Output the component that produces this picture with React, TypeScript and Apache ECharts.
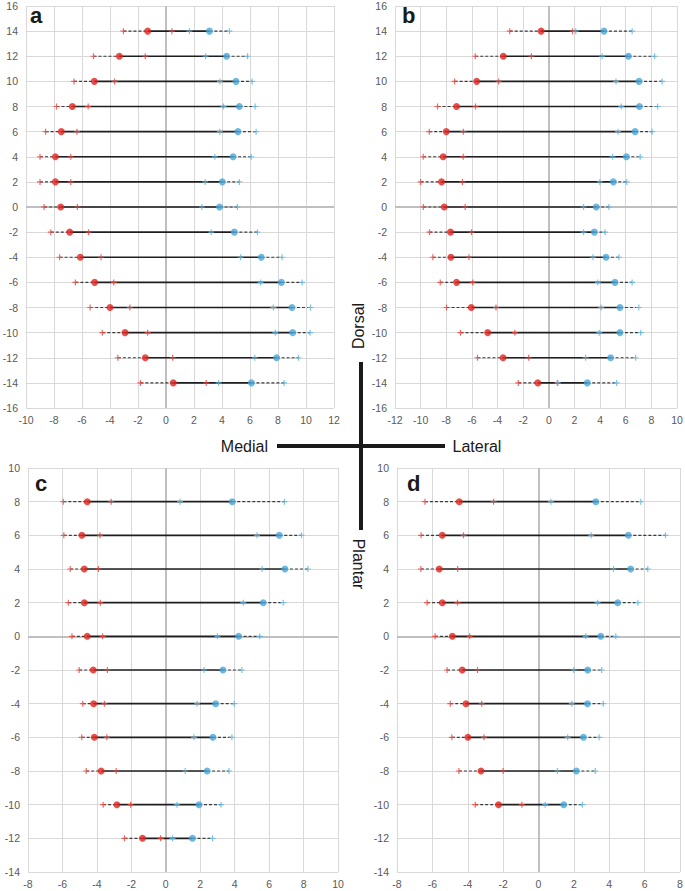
import React, { useEffect, useRef } from "react";
import * as echarts from "echarts";

// ---------- data ----------
const rowsAB = [14, 12, 10, 8, 6, 4, 2, 0, -2, -4, -6, -8, -10, -12, -14];
const rowsC = [8, 6, 4, 2, 0, -2, -4, -6, -8, -10, -12];
const rowsD = [8, 6, 4, 2, 0, -2, -4, -6, -8, -10];

const aMedialMean = [-1.31, -3.33, -5.12, -6.69, -7.48, -7.9, -7.9, -7.52, -6.88, -6.12, -5.1, -4.0, -2.93, -1.48, 0.52];
const aMedialSD = [1.73, 1.85, 1.45, 1.13, 1.12, 1.1, 1.1, 1.19, 1.35, 1.48, 1.37, 1.42, 1.62, 1.96, 2.35];
const aLateralMean = [3.1, 4.33, 5.0, 5.24, 5.14, 4.79, 4.02, 3.83, 4.88, 6.81, 8.24, 9.0, 9.05, 7.9, 6.1];
const aLateralSD = [1.43, 1.5, 1.15, 1.13, 1.3, 1.3, 1.22, 1.27, 1.65, 1.48, 1.48, 1.33, 1.24, 1.56, 2.34];

const bMedialMean = [-0.6, -3.55, -5.63, -7.2, -8.0, -8.24, -8.37, -8.16, -7.67, -7.64, -7.2, -6.05, -4.77, -3.57, -0.86];
const bMedialSD = [2.45, 2.19, 1.72, 1.48, 1.33, 1.56, 1.63, 1.63, 1.64, 1.41, 1.27, 1.93, 2.12, 2.0, 1.52];
const bLateralMean = [4.3, 6.21, 7.04, 7.07, 6.73, 6.05, 5.03, 3.7, 3.55, 4.46, 5.16, 5.55, 5.55, 4.82, 3.0];
const bLateralSD = [2.2, 2.05, 1.8, 1.42, 1.33, 1.08, 1.05, 0.99, 0.84, 1.01, 1.34, 1.47, 1.62, 1.95, 2.29];

const cMedialMean = [-4.56, -4.87, -4.73, -4.73, -4.56, -4.21, -4.19, -4.15, -3.75, -2.84, -1.35];
const cMedialSD = [1.39, 1.05, 0.82, 0.93, 0.89, 0.82, 0.63, 0.73, 0.87, 0.8, 1.05];
const cLateralMean = [3.86, 6.59, 6.92, 5.66, 4.23, 3.32, 2.9, 2.74, 2.4, 1.93, 1.55];
const cLateralSD = [3.03, 1.29, 1.33, 1.16, 1.23, 1.1, 1.08, 1.1, 1.27, 1.28, 1.16];

const dMedialMean = [-4.48, -5.44, -5.61, -5.44, -4.87, -4.31, -4.1, -3.99, -3.25, -2.26];
const dMedialSD = [1.94, 1.2, 1.04, 0.86, 0.98, 0.86, 0.89, 0.91, 1.25, 1.32];
const dLateralMean = [3.24, 5.08, 5.21, 4.48, 3.52, 2.78, 2.77, 2.54, 2.14, 1.43];
const dLateralSD = [2.54, 2.1, 0.97, 1.14, 0.85, 0.79, 0.89, 0.89, 1.07, 1.05];

const panelLetters = ["a", "b", "c", "d"];
const xRanges = [
  [-10, 12],
  [-12, 10],
  [-8, 10],
  [-8, 8],
];
const yRanges = [
  [-16, 16],
  [-16, 16],
  [-14, 10],
  [-14, 10],
];
const directionLabels = ["Medial", "Lateral", "Dorsal", "Plantar"];

// ---------- styling ----------
const FONT = "'Liberation Sans', Arial, Helvetica, sans-serif";
const RED = "#e2231d";
const BLUE = "#47a6d8";
const RED_PLUS = "#e8453f";
const BLUE_PLUS = "#5fb4e2";
const PLUS = "path://M4,0H6V4H10V6H6V10H4V6H0V4H4Z";

const grids = [
  { left: 26, top: 6, width: 308, height: 402 },
  { left: 395, top: 6, width: 282, height: 402 },
  { left: 28, top: 468, width: 310, height: 404 },
  { left: 397, top: 468, width: 283, height: 404 },
];
const letterPos = [
  [30, 15.5],
  [402, 15],
  [35, 483.5],
  [407, 483],
];

const panels = [
  { rows: rowsAB, mm: aMedialMean, ms: aMedialSD, lm: aLateralMean, ls: aLateralSD },
  { rows: rowsAB, mm: bMedialMean, ms: bMedialSD, lm: bLateralMean, ls: bLateralSD },
  { rows: rowsC, mm: cMedialMean, ms: cMedialSD, lm: cLateralMean, ls: cLateralSD },
  { rows: rowsD, mm: dMedialMean, ms: dMedialSD, lm: dLateralMean, ls: dLateralSD },
];

function buildOption() {
  const grid: any[] = [];
  const xAxis: any[] = [];
  const yAxis: any[] = [];
  const series: any[] = [];

  panels.forEach((p, i) => {
    grid.push({ ...grids[i], containLabel: false, outerBoundsMode: "none" });
    const axisCommon = {
      gridIndex: i,
      type: "value",
      interval: 2,
      axisLine: { show: false },
      axisTick: { show: false },
      axisLabel: { color: "#595959", fontSize: 10.5, fontFamily: FONT },
      splitLine: { show: true, lineStyle: { color: "#d9d9d9", width: 1 } },
    };
    xAxis.push({
      ...axisCommon,
      min: xRanges[i][0],
      max: xRanges[i][1],
      axisLabel: { ...axisCommon.axisLabel, margin: 6 },
    });
    yAxis.push({
      ...axisCommon,
      min: yRanges[i][0],
      max: yRanges[i][1],
      axisLabel: { ...axisCommon.axisLabel, margin: 8 },
    });

    const table = p.rows.map((y, k) => [y, p.mm[k], p.ms[k], p.lm[k], p.ls[k]]);

    // zero lines (helper)
    series.push({
      type: "scatter",
      xAxisIndex: i,
      yAxisIndex: i,
      data: p.rows.map((y, k) => [p.mm[k], y]),
      symbolSize: 0,
      itemStyle: { opacity: 0 },
      silent: true,
      z: 1,
      markLine: {
        z: 1,
        silent: true,
        symbol: ["none", "none"],
        label: { show: false },
        lineStyle: { color: "#bfbfbf", width: 2, type: "solid" },
        emphasis: { disabled: true },
        data: [{ xAxis: 0 }, { yAxis: 0 }],
      },
    });

    // range lines
    series.push({
      type: "custom",
      xAxisIndex: i,
      yAxisIndex: i,
      data: table,
      encode: { x: 1, y: 0 },
      silent: true,
      z: 2,
      renderItem: (params: any, api: any) => {
        const y = api.value(0);
        const m = api.value(1);
        const ms = api.value(2);
        const l = api.value(3);
        const ls = api.value(4);
        const p1 = api.coord([m - ms, y]);
        const p2 = api.coord([m, y]);
        const p3 = api.coord([l, y]);
        const p4 = api.coord([l + ls, y]);
        const dash = { stroke: "#3a3a3a", lineWidth: 1.1, lineDash: [3, 2] };
        return {
          type: "group",
          children: [
            { type: "line", shape: { x1: p1[0], y1: p1[1], x2: p2[0], y2: p2[1] }, style: dash },
            {
              type: "line",
              shape: { x1: p2[0], y1: p2[1], x2: p3[0], y2: p3[1] },
              style: { stroke: "#1e1e1e", lineWidth: 1.7 },
            },
            { type: "line", shape: { x1: p3[0], y1: p3[1], x2: p4[0], y2: p4[1] }, style: dash },
          ],
        };
      },
    });

    // SD markers
    const redPlus: number[][] = [];
    const bluePlus: number[][] = [];
    p.rows.forEach((y, k) => {
      redPlus.push([p.mm[k] - p.ms[k], y], [p.mm[k] + p.ms[k], y]);
      bluePlus.push([p.lm[k] - p.ls[k], y], [p.lm[k] + p.ls[k], y]);
    });
    series.push({
      type: "scatter",
      xAxisIndex: i,
      yAxisIndex: i,
      data: redPlus,
      symbol: PLUS,
      symbolSize: 6,
      itemStyle: { color: RED_PLUS },
      silent: true,
      z: 3,
    });
    series.push({
      type: "scatter",
      xAxisIndex: i,
      yAxisIndex: i,
      data: bluePlus,
      symbol: PLUS,
      symbolSize: 6,
      itemStyle: { color: BLUE_PLUS },
      silent: true,
      z: 3,
    });
    // mean dots
    series.push({
      type: "scatter",
      xAxisIndex: i,
      yAxisIndex: i,
      data: p.rows.map((y, k) => [p.mm[k], y]),
      symbol: "circle",
      symbolSize: 7,
      itemStyle: { color: RED },
      silent: true,
      z: 4,
    });
    series.push({
      type: "scatter",
      xAxisIndex: i,
      yAxisIndex: i,
      data: p.rows.map((y, k) => [p.lm[k], y]),
      symbol: "circle",
      symbolSize: 7,
      itemStyle: { color: BLUE },
      silent: true,
      z: 4,
    });
  });

  const graphic: any[] = [];
  panelLetters.forEach((t, i) => {
    graphic.push({
      type: "text",
      x: letterPos[i][0],
      y: letterPos[i][1],
      style: {
        text: t,
        fontFamily: FONT,
        fontWeight: "bold",
        fontSize: 22,
        fill: "#1a1a1a",
        align: "left",
        verticalAlign: "middle",
      },
      z: 10,
    });
  });
  // direction cross
  graphic.push({
    type: "line",
    shape: { x1: 361, y1: 362, x2: 361, y2: 530 },
    style: { stroke: "#1a1a1a", lineWidth: 4 },
  });
  graphic.push({
    type: "line",
    shape: { x1: 277, y1: 446, x2: 445, y2: 446 },
    style: { stroke: "#1a1a1a", lineWidth: 4 },
  });
  const dirStyle = { fontFamily: FONT, fontSize: 16, fill: "#1a1a1a", verticalAlign: "middle" };
  graphic.push({ type: "text", x: 268, y: 446, style: { ...dirStyle, text: directionLabels[0], align: "right" } });
  graphic.push({ type: "text", x: 452.5, y: 446, style: { ...dirStyle, text: directionLabels[1], align: "left" } });
  graphic.push({
    type: "text",
    x: 358.4,
    y: 326,
    rotation: Math.PI / 2,
    style: { ...dirStyle, text: directionLabels[2], align: "center" },
  });
  graphic.push({
    type: "text",
    x: 358.8,
    y: 564,
    rotation: -Math.PI / 2,
    style: { ...dirStyle, text: directionLabels[3], align: "center" },
  });

  return {
    animation: false,
    backgroundColor: "#ffffff",
    textStyle: { fontFamily: FONT },
    grid,
    xAxis,
    yAxis,
    series,
    graphic,
  };
}

export default function App() {
  const ref = useRef<HTMLDivElement>(null);
  useEffect(() => {
    if (!ref.current) return;
    const chart = echarts.init(ref.current, undefined, { renderer: "svg" });
    chart.setOption(buildOption() as any);
    return () => chart.dispose();
  }, []);
  return (
    <div
      ref={ref}
      style={{ position: "absolute", left: 0, top: 0, width: 685, height: 891, background: "#fff" }}
    />
  );
}
